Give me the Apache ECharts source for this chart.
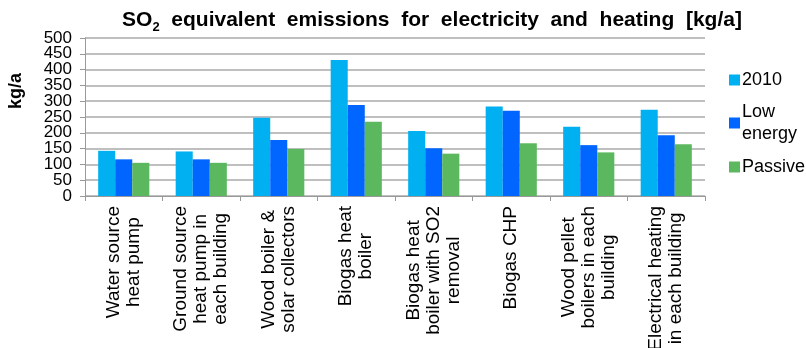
<!DOCTYPE html>
<html>
<head>
<meta charset="utf-8">
<title>SO2 equivalent emissions</title>
<script src="https://cdn.jsdelivr.net/npm/echarts@6/dist/echarts.min.js"></script>
<style>
  html, body { margin: 0; padding: 0; background: #ffffff; }
  #chart { width: 806px; height: 348px; }
</style>
</head>
<body>
<div id="chart"></div>
<script>
// Heating options (category axis), one label line per "\n"
const categories = [
  'Water source\nheat pump',
  'Ground source\nheat pump in\neach building',
  'Wood boiler &\nsolar collectors',
  'Biogas heat\nboiler',
  'Biogas heat\nboiler with SO2\nremoval',
  'Biogas CHP',
  'Wood pellet\nboilers in each\nbuilding',
  'Electrical heating\nin each building'
];

// Building standards shown as series
const seriesNames = ['2010', 'Low energy', 'Passive'];

// SO2 equivalent emissions, kg/a
const values2010 = [143, 141, 248, 430, 206, 283, 219, 273];
const valuesLowEnergy = [116, 116, 177, 288, 151, 270, 161, 192];
const valuesPassive = [105, 105, 149, 235, 134, 167, 138, 164];

// Value axis range and step
const yMin = 0;
const yMax = 500;
const yStep = 50;

const seriesColors = ['#00B0F0', '#0066FF', '#5CB85F'];

const FONT = '"Liberation Sans", Arial, sans-serif';

const chart = echarts.init(document.getElementById('chart'), null, { renderer: 'canvas' });

function barSeries(name, data, color) {
  return {
    name: name,
    type: 'bar',
    data: data,
    yAxisIndex: 0,
    barGap: '0%',
    barCategoryGap: '34%',
    itemStyle: { color: color },
    emphasis: { disabled: true }
  };
}

// One legend block per series so each marker sits beside the first text line
function legendBlock(name, top, label, padTop) {
  return {
    orient: 'vertical',
    left: 724,
    top: top,
    itemWidth: 11,
    itemHeight: 11,
    icon: 'rect',
    data: [name],
    formatter: function () { return label; },
    textStyle: {
      fontFamily: FONT,
      fontSize: 18,
      lineHeight: 22,
      color: '#000000',
      padding: [padTop, 0, 0, -3]
    }
  };
}

const yLabelStyle = {
  margin: 13,
  color: '#000000',
  fontFamily: FONT,
  fontSize: 17
};

chart.setOption({
  animation: false,
  textStyle: { fontFamily: FONT },
  title: {
    text: 'SO{sub|2}  equivalent  emissions  for  electricity  and  heating  [kg/a]',
    left: 427,
    textAlign: 'center',
    top: 5,
    textStyle: {
      fontFamily: FONT,
      fontSize: 21,
      fontWeight: 'bold',
      color: '#000000',
      rich: {
        sub: {
          fontFamily: FONT,
          fontSize: 13,
          fontWeight: 'bold',
          color: '#000000',
          verticalAlign: 'bottom',
          padding: [0, 0, -3, 0]
        }
      }
    }
  },
  legend: [
    legendBlock(seriesNames[0], 64, '2010', 0),
    legendBlock(seriesNames[1], 85, 'Low\nenergy', 22),
    legendBlock(seriesNames[2], 151, 'Passive', 0)
  ],
  grid: {
    left: 85,
    right: 101,
    top: 38,
    bottom: 152,
    containLabel: false,
    outerBoundsMode: 'none'
  },
  xAxis: {
    type: 'category',
    data: categories,
    axisLine: { show: true, lineStyle: { color: '#999999', width: 1 } },
    axisTick: { show: true, length: 5, lineStyle: { color: '#999999' } },
    axisLabel: {
      rotate: 90,
      margin: 10,
      interval: 0,
      color: '#000000',
      fontFamily: FONT,
      fontSize: 19,
      lineHeight: 20,
      formatter: function (value) {
        return value.split('\n').map(function (line) { return '{c|' + line + '}'; }).join('\n');
      },
      rich: {
        c: { align: 'center', fontFamily: FONT, fontSize: 19, lineHeight: 20, color: '#000000' }
      }
    }
  },
  yAxis: [
    {
      // main value axis: grid lines, inner tick labels and the axis title
      type: 'value',
      position: 'left',
      min: yMin,
      max: yMax,
      interval: yStep,
      name: 'kg/a',
      nameLocation: 'middle',
      nameRotate: 90,
      nameGap: 60,
      nameTextStyle: {
        fontFamily: FONT,
        fontSize: 18,
        fontWeight: 'bold',
        color: '#000000',
        padding: [0, 0, 0, 52]
      },
      axisLine: { show: true, lineStyle: { color: '#999999', width: 1 } },
      axisTick: { show: true, length: 5, lineStyle: { color: '#999999' } },
      axisLabel: Object.assign({ showMinLabel: false, showMaxLabel: false }, yLabelStyle),
      splitLine: { show: true, lineStyle: { color: '#AAAAAA', width: 1.5 } }
    },
    {
      // same scale, only carries the end labels (0 and 500) and their ticks
      type: 'value',
      position: 'left',
      min: yMin,
      max: yMax,
      interval: yMax - yMin,
      axisLine: { show: false },
      axisTick: { show: true, length: 5, lineStyle: { color: '#999999' } },
      axisLabel: yLabelStyle,
      splitLine: { show: false }
    }
  ],
  series: [
    barSeries(seriesNames[0], values2010, seriesColors[0]),
    barSeries(seriesNames[1], valuesLowEnergy, seriesColors[1]),
    barSeries(seriesNames[2], valuesPassive, seriesColors[2])
  ]
});
</script>
</body>
</html>
